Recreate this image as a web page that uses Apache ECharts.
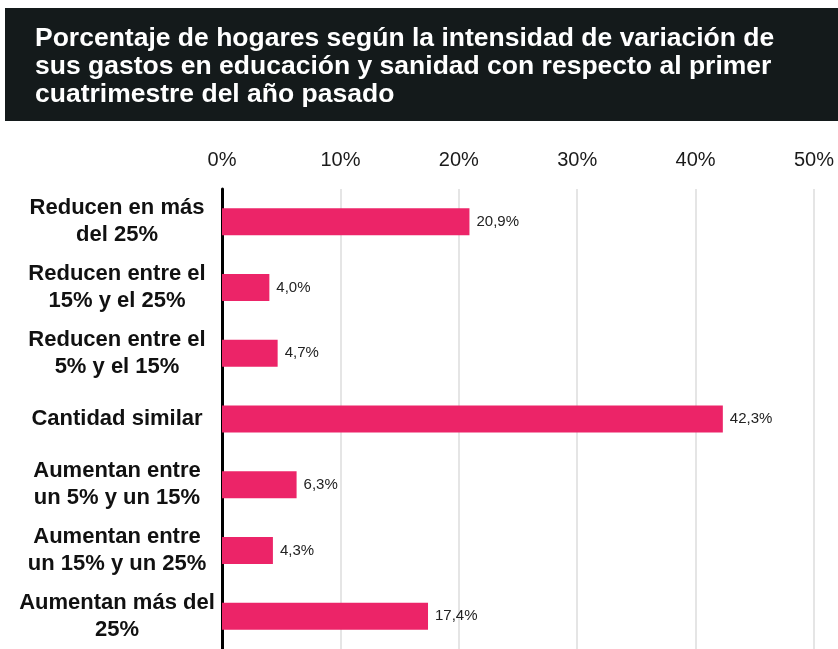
<!DOCTYPE html>
<html>
<head>
<meta charset="utf-8">
<script src="https://cdn.jsdelivr.net/npm/echarts@6/dist/echarts.min.js"></script>
<style>
  html, body { margin: 0; padding: 0; background: #fff; }
  #chart { width: 838px; height: 649px; }
</style>
</head>
<body>
<div id="chart"></div>
<script>
const categories = [
  'Reducen en más\ndel 25%',
  'Reducen entre el\n15% y el 25%',
  'Reducen entre el\n5% y el 15%',
  'Cantidad similar',
  'Aumentan entre\nun 5% y un 15%',
  'Aumentan entre\nun 15% y un 25%',
  'Aumentan más del\n25%'
]
const values = [20.9, 4.0, 4.7, 42.3, 6.3, 4.3, 17.4]
const titleText = 'Porcentaje de hogares según la intensidad de variación de\nsus gastos en educación y sanidad con respecto al primer\ncuatrimestre del año pasado'

const chart = echarts.init(document.getElementById('chart'))
const font = '"Liberation Sans", Arial, sans-serif'

const option = {
  animation: false,
  graphic: [
    {
      type: 'rect',
      shape: { x: 5, y: 8, width: 840, height: 113 },
      style: { fill: '#141a1b' },
      z: 0
    },
    {
      type: 'text',
      x: 35,
      y: 25,
      style: {
        text: titleText,
        fill: '#ffffff',
        font: 'bold 26.5px ' + font,
        lineHeight: 28
      },
      z: 1
    }
  ],
  grid: {
    left: 222,
    right: 24,
    top: 189,
    bottom: -2
  },
  xAxis: {
    type: 'value',
    position: 'top',
    min: 0,
    max: 50,
    interval: 10,
    axisLine: { show: false },
    axisTick: { show: false },
    axisLabel: {
      formatter: '{value}%',
      fontFamily: font,
      fontSize: 20,
      color: '#1a1a1a',
      margin: 19
    },
    splitLine: {
      show: true,
      lineStyle: { color: '#dcdcdc', width: 1.5 }
    }
  },
  yAxis: {
    type: 'category',
    inverse: true,
    data: categories,
    axisLine: {
      show: true,
      lineStyle: { color: '#000000', width: 3 }
    },
    axisTick: { show: false },
    axisLabel: {
      align: 'center',
      margin: 105,
      fontFamily: font,
      fontWeight: 'bold',
      fontSize: 22,
      lineHeight: 27,
      color: '#111111'
    }
  },
  series: [
    {
      type: 'bar',
      data: values,
      barWidth: 27,
      itemStyle: { color: '#ec2468' },
      label: {
        show: true,
        position: 'right',
        distance: 7,
        fontFamily: font,
        fontSize: 15,
        color: '#222222',
        formatter: p => p.value.toFixed(1).replace('.', ',') + '%'
      }
    }
  ]
}
chart.setOption(option)
</script>
</body>
</html>
